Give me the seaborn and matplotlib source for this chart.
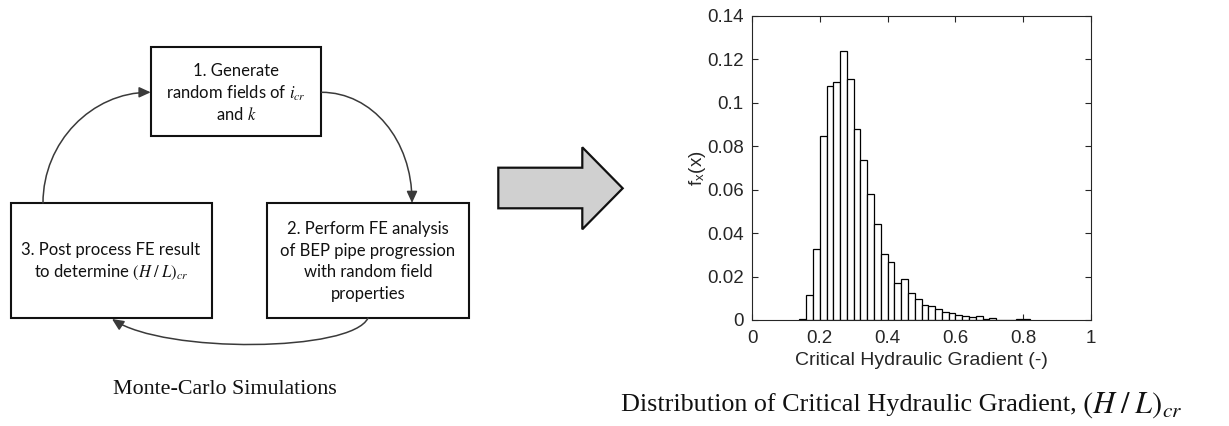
import numpy as np
import pandas as pd
import matplotlib
matplotlib.use("Agg")
import matplotlib.pyplot as plt
import seaborn as sns
from matplotlib.patches import Rectangle, Polygon, FancyArrowPatch
from matplotlib.path import Path

# Histogram of the critical hydraulic gradient (relative frequency per 0.02 bin)
bin_lefts = [0.14, 0.16, 0.18, 0.20, 0.22, 0.24, 0.26, 0.28, 0.30, 0.32,
             0.34, 0.36, 0.38, 0.40, 0.42, 0.44, 0.46, 0.48, 0.50, 0.52,
             0.54, 0.56, 0.58, 0.60, 0.62, 0.64, 0.66, 0.68, 0.70, 0.72,
             0.74, 0.76, 0.78, 0.80]
bin_width = 0.02
rel_freq = [0.0003, 0.0115, 0.0327, 0.0846, 0.1077, 0.1097, 0.1241, 0.1109,
            0.0879, 0.0736, 0.0581, 0.0442, 0.0304, 0.0266, 0.0172, 0.0190,
            0.0123, 0.0097, 0.0071, 0.0063, 0.0049, 0.0038, 0.0034, 0.0023,
            0.0018, 0.0014, 0.0017, 0.0005, 0.0009, 0.0, 0.0, 0.0,
            0.0003, 0.0004]

x_ticks = [0, 0.2, 0.4, 0.6, 0.8, 1.0]
x_tick_labels = ["0", "0.2", "0.4", "0.6", "0.8", "1"]
y_ticks = [0, 0.02, 0.04, 0.06, 0.08, 0.10, 0.12, 0.14]
y_tick_labels = ["0", "0.02", "0.04", "0.06", "0.08", "0.1", "0.12", "0.14"]

# Flow chart text
step1_lines = ["1. Generate", r"random fields of $i_{cr}$", r"and $k$"]
step2_lines = ["2. Perform FE analysis", "of BEP pipe progression",
               "with random field", "properties"]
step3_lines = ["3. Post process FE result", r"to determine $(H\;/\;L)_{cr}$"]
caption_left = "Monte-Carlo Simulations"
caption_right = "Distribution of Critical Hydraulic Gradient,"
caption_right_math = r"$(H\;/\;L)_{cr}$"

sns.set_style("ticks")
plt.rcParams["font.family"] = ["Lato", "DejaVu Sans"]
plt.rcParams["mathtext.fontset"] = "stix"

W, H = 1229, 426
fig = plt.figure(figsize=(W / 100, H / 100), dpi=100)
fig.patch.set_facecolor("white")

# ---- canvas for the flow chart (pixel coordinates, y downward) ----
canvas = fig.add_axes([0, 0, 1, 1])
canvas.set_xlim(0, W)
canvas.set_ylim(H, 0)
canvas.axis("off")

box_kw = dict(fill=False, edgecolor="#111111", linewidth=1.5)
canvas.add_patch(Rectangle((150.7, 47.3), 170.6, 88.7, **box_kw))
canvas.add_patch(Rectangle((10.7, 203.0), 201.0, 115.0, **box_kw))
canvas.add_patch(Rectangle((267.3, 203.0), 201.4, 115.0, **box_kw))

txt_kw = dict(ha="center", va="center", fontsize=12, color="#111111",
              family=["Lato", "DejaVu Sans"])
for s, y in zip(step1_lines, [71, 93, 114]):
    canvas.text(236, y, s, **txt_kw)
for s, y in zip(step2_lines, [229, 251, 272, 294]):
    canvas.text(368, y, s, **txt_kw)
for s, y in zip(step3_lines, [250, 272]):
    canvas.text(111, y, s, **txt_kw)


def curved_arrow(points):
    path = Path(points, [Path.MOVETO, Path.CURVE4, Path.CURVE4, Path.CURVE4])
    arr = FancyArrowPatch(path=path, arrowstyle="-|>,head_length=7,head_width=3.2",
                          color="#3a3a3a", linewidth=1.1, shrinkA=0, shrinkB=0)
    canvas.add_patch(arr)


curved_arrow([(321.5, 92.3), (372, 92.3), (412, 140), (412, 203)])
curved_arrow([(43, 203), (43, 142), (92, 92.3), (150.7, 92.3)])
curved_arrow([(368, 318), (352, 352), (165, 354), (112, 319)])

# Big block arrow between the panels
canvas.add_patch(Polygon([(498.3, 167.7), (582.3, 167.7), (582.3, 147.3),
                          (622.7, 188.3), (582.3, 229.3), (582.3, 208.3),
                          (498.3, 208.3)], closed=True,
                         facecolor="#d0d0d0", edgecolor="#111111", linewidth=1.6))

serif = ["Liberation Serif", "DejaVu Serif"]
canvas.text(225, 390, caption_left, ha="center", va="center", fontsize=15.8,
            color="#111111", family=serif)
canvas.text(621, 405, caption_right, ha="left", va="center", fontsize=18.8,
            color="#111111", family=serif)
canvas.text(1082, 405, caption_right_math, ha="left", va="center", fontsize=22,
            color="#111111", family=serif)

# ---- histogram ----
ax = fig.add_axes([752 / W, (H - 320) / H, 339 / W, 304 / H])
df = pd.DataFrame({"center": np.array(bin_lefts) + bin_width / 2,
                   "freq": rel_freq})
edges = list(bin_lefts) + [bin_lefts[-1] + bin_width]
sns.histplot(data=df, x="center", weights="freq", bins=edges, stat="count",
             ax=ax, color="white", edgecolor="black", linewidth=0.9, alpha=1.0)

ax.set_xlim(0, 1)
ax.set_ylim(0, 0.14)
ax.set_xticks(x_ticks)
ax.set_xticklabels(x_tick_labels)
ax.set_yticks(y_ticks)
ax.set_yticklabels(y_tick_labels)
axis_col = "#262626"
for side in ["left", "right", "top", "bottom"]:
    ax.spines[side].set_visible(True)
    ax.spines[side].set_color(axis_col)
    ax.spines[side].set_linewidth(0.8)
ax.tick_params(direction="in", top=True, right=True, length=4, width=0.8,
               color=axis_col, labelcolor=axis_col, labelsize=13.5)
ax.tick_params(axis="x", pad=7)
ax.tick_params(axis="y", pad=6)
for lab in ax.get_xticklabels() + ax.get_yticklabels():
    lab.set_family(["Liberation Sans", "DejaVu Sans"])
ax.set_xlabel("Critical Hydraulic Gradient (-)", fontsize=14, color=axis_col,
              family=["Liberation Sans", "DejaVu Sans"], labelpad=4)
ax.set_ylabel(r"f$_\mathregular{x}$(x)", fontsize=13.5, color=axis_col,
              family=["Liberation Sans", "DejaVu Sans"], labelpad=-1)
ax.set_facecolor("white")

fig.savefig("out.png", dpi=100, facecolor="white")
